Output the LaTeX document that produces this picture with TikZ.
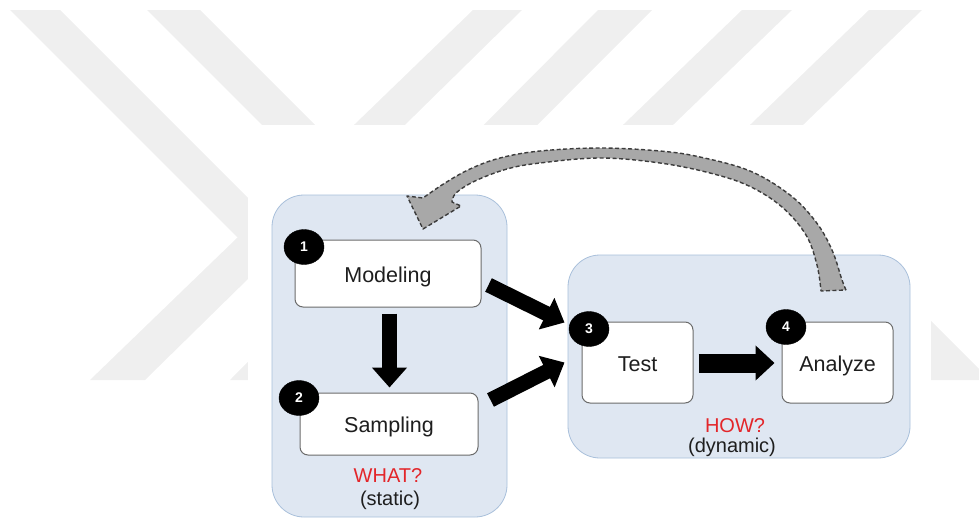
\documentclass[tikz,border=0pt]{standalone}
\usepackage{fontspec}
\setmainfont{Liberation Sans}
\usetikzlibrary{arrows.meta,shapes.geometric,calc}

\definecolor{wm}{HTML}{EFEFEF}
\definecolor{panelfill}{HTML}{DFE7F2}
\definecolor{paneledge}{HTML}{A9C0DB}
\definecolor{boxedge}{HTML}{6B6B6B}
\definecolor{txt}{HTML}{1E1E1E}
\definecolor{qred}{HTML}{E3262A}
\definecolor{loopfill}{HTML}{A8A8A8}
\definecolor{loopedge}{HTML}{3C3C3C}

\begin{document}
\begin{tikzpicture}[x=1pt,y=-1pt,
  panel/.style={draw=paneledge,line width=0.8pt,fill=panelfill,rounded corners=32pt,inner sep=0pt},
  stepbox/.style={draw=boxedge,line width=1pt,fill=white,rounded corners=8pt,inner sep=0pt,
    text=txt,font=\fontsize{21.5}{24}\selectfont,text height=17pt,text depth=0pt},
  badge/.style={ellipse,fill=black,draw=black,minimum width=40pt,minimum height=35pt,inner sep=0pt,
    text=white,font=\fontsize{14}{14}\selectfont\bfseries},
  flow/.style={line width=15pt,draw=black,-{Triangle[width=34pt,length=20pt]}},
  flowh/.style={line width=19pt,draw=black,-{Triangle[width=34pt,length=19pt]}},
  note/.style={font=\fontsize{20}{22}\selectfont,anchor=base},
  loop/.style={fill=loopfill,draw=loopedge,line width=1.4pt,dash pattern=on 4pt off 2.5pt,line join=round},
  wmark/.style={fill=wm,draw=none}
]
\useasboundingbox (0,0) rectangle (979,522);

% background stripes and the white panel laid over them
\begin{scope}
  \clip (0,0) rectangle (979,522);
  \fill[wmark] (10,10) -- (60,10) -- (430,380) -- (380,380) -- cycle;
  \fill[wmark] (147,10) -- (200,10) -- (570,380) -- (517,380) -- cycle;
  \fill[wmark] (473,10) -- (522,10) -- (145,380) -- (90,380) -- cycle;
  \fill[wmark] (598,10) -- (652,10) -- (283,380) -- (230,380) -- cycle;
  \fill[wmark] (742,10) -- (792,10) -- (409,380) -- (359,380) -- cycle;
  \fill[wmark] (869,10) -- (922,10) -- (539,380) -- (486,380) -- cycle;
  \fill[wmark] (697,150) -- (760,150) -- (990,380) -- (927,380) -- cycle;
  \fill[white] (248,125) rectangle (931,522);
\end{scope}

% the two phases
\node[panel,minimum width=235pt,minimum height=322pt] (lpanel) at (389.5,356) {};
\node[panel,minimum width=342pt,minimum height=203pt] (rpanel) at (739,356.5) {};

% steps
\node[stepbox,minimum width=186pt,minimum height=67pt] (model) at (388,273.5) {Modeling};
\node[stepbox,minimum width=178pt,minimum height=62pt] (samp) at (389,424) {Sampling};
\node[stepbox,minimum width=111pt,minimum height=81pt] (test) at (637.5,362.5) {Test};
\node[stepbox,minimum width=111pt,minimum height=81pt] (anal) at (837.5,362.5) {Analyze};

% step numbers
\node[badge] (n1) at (304,247) {1};
\node[badge] (n2) at (299,398) {2};
\node[badge] (n3) at (589,329) {3};
\node[badge] (n4) at (786,327) {4};

% flow between the steps
\draw[flow] ($(model.south)+(1.5,6)$) -- ($(samp.north)+(0.5,-5)$);
\draw[flow] ($(model.east)+(7,11.5)$) -- ($(test.north west)+(-17,1)$);
\draw[flow] ($(samp.east)+(12,-24)$) -- ($(test.west)+(-17,0)$);
\draw[flowh] ($(test.east)+(5,0.5)$) -- ($(anal.west)+(-7,0.5)$);

% feedback from the analysis back to the first phase
\draw[loop]
  plot[smooth,tension=0.6] coordinates {(846,290) (842,280) (832,250) (816,222) (790,195)
    (750,171) (700,157) (660,151) (600,148) (540,151) (500,158) (470,169) (445,183) (423,198)}
  -- (407,196) -- (423,229) -- (461,206)
  -- plot[smooth,tension=0.6] coordinates {(452,202) (456,193) (475,181) (507,169) (540,163)
    (600,158) (660,163) (710,173) (749,186) (782,207) (806,235) (817,265) (821,291)}
  -- cycle;

% phase captions
\node[note,text=qred] (what) at (388,482) {WHAT?};
\node[note,text=txt] (stat) at (390,505) {(static)};
\node[note,text=qred] (how) at (735,432) {HOW?};
\node[note,text=txt] (dyn) at (732,452) {(dynamic)};
\end{tikzpicture}
\end{document}
